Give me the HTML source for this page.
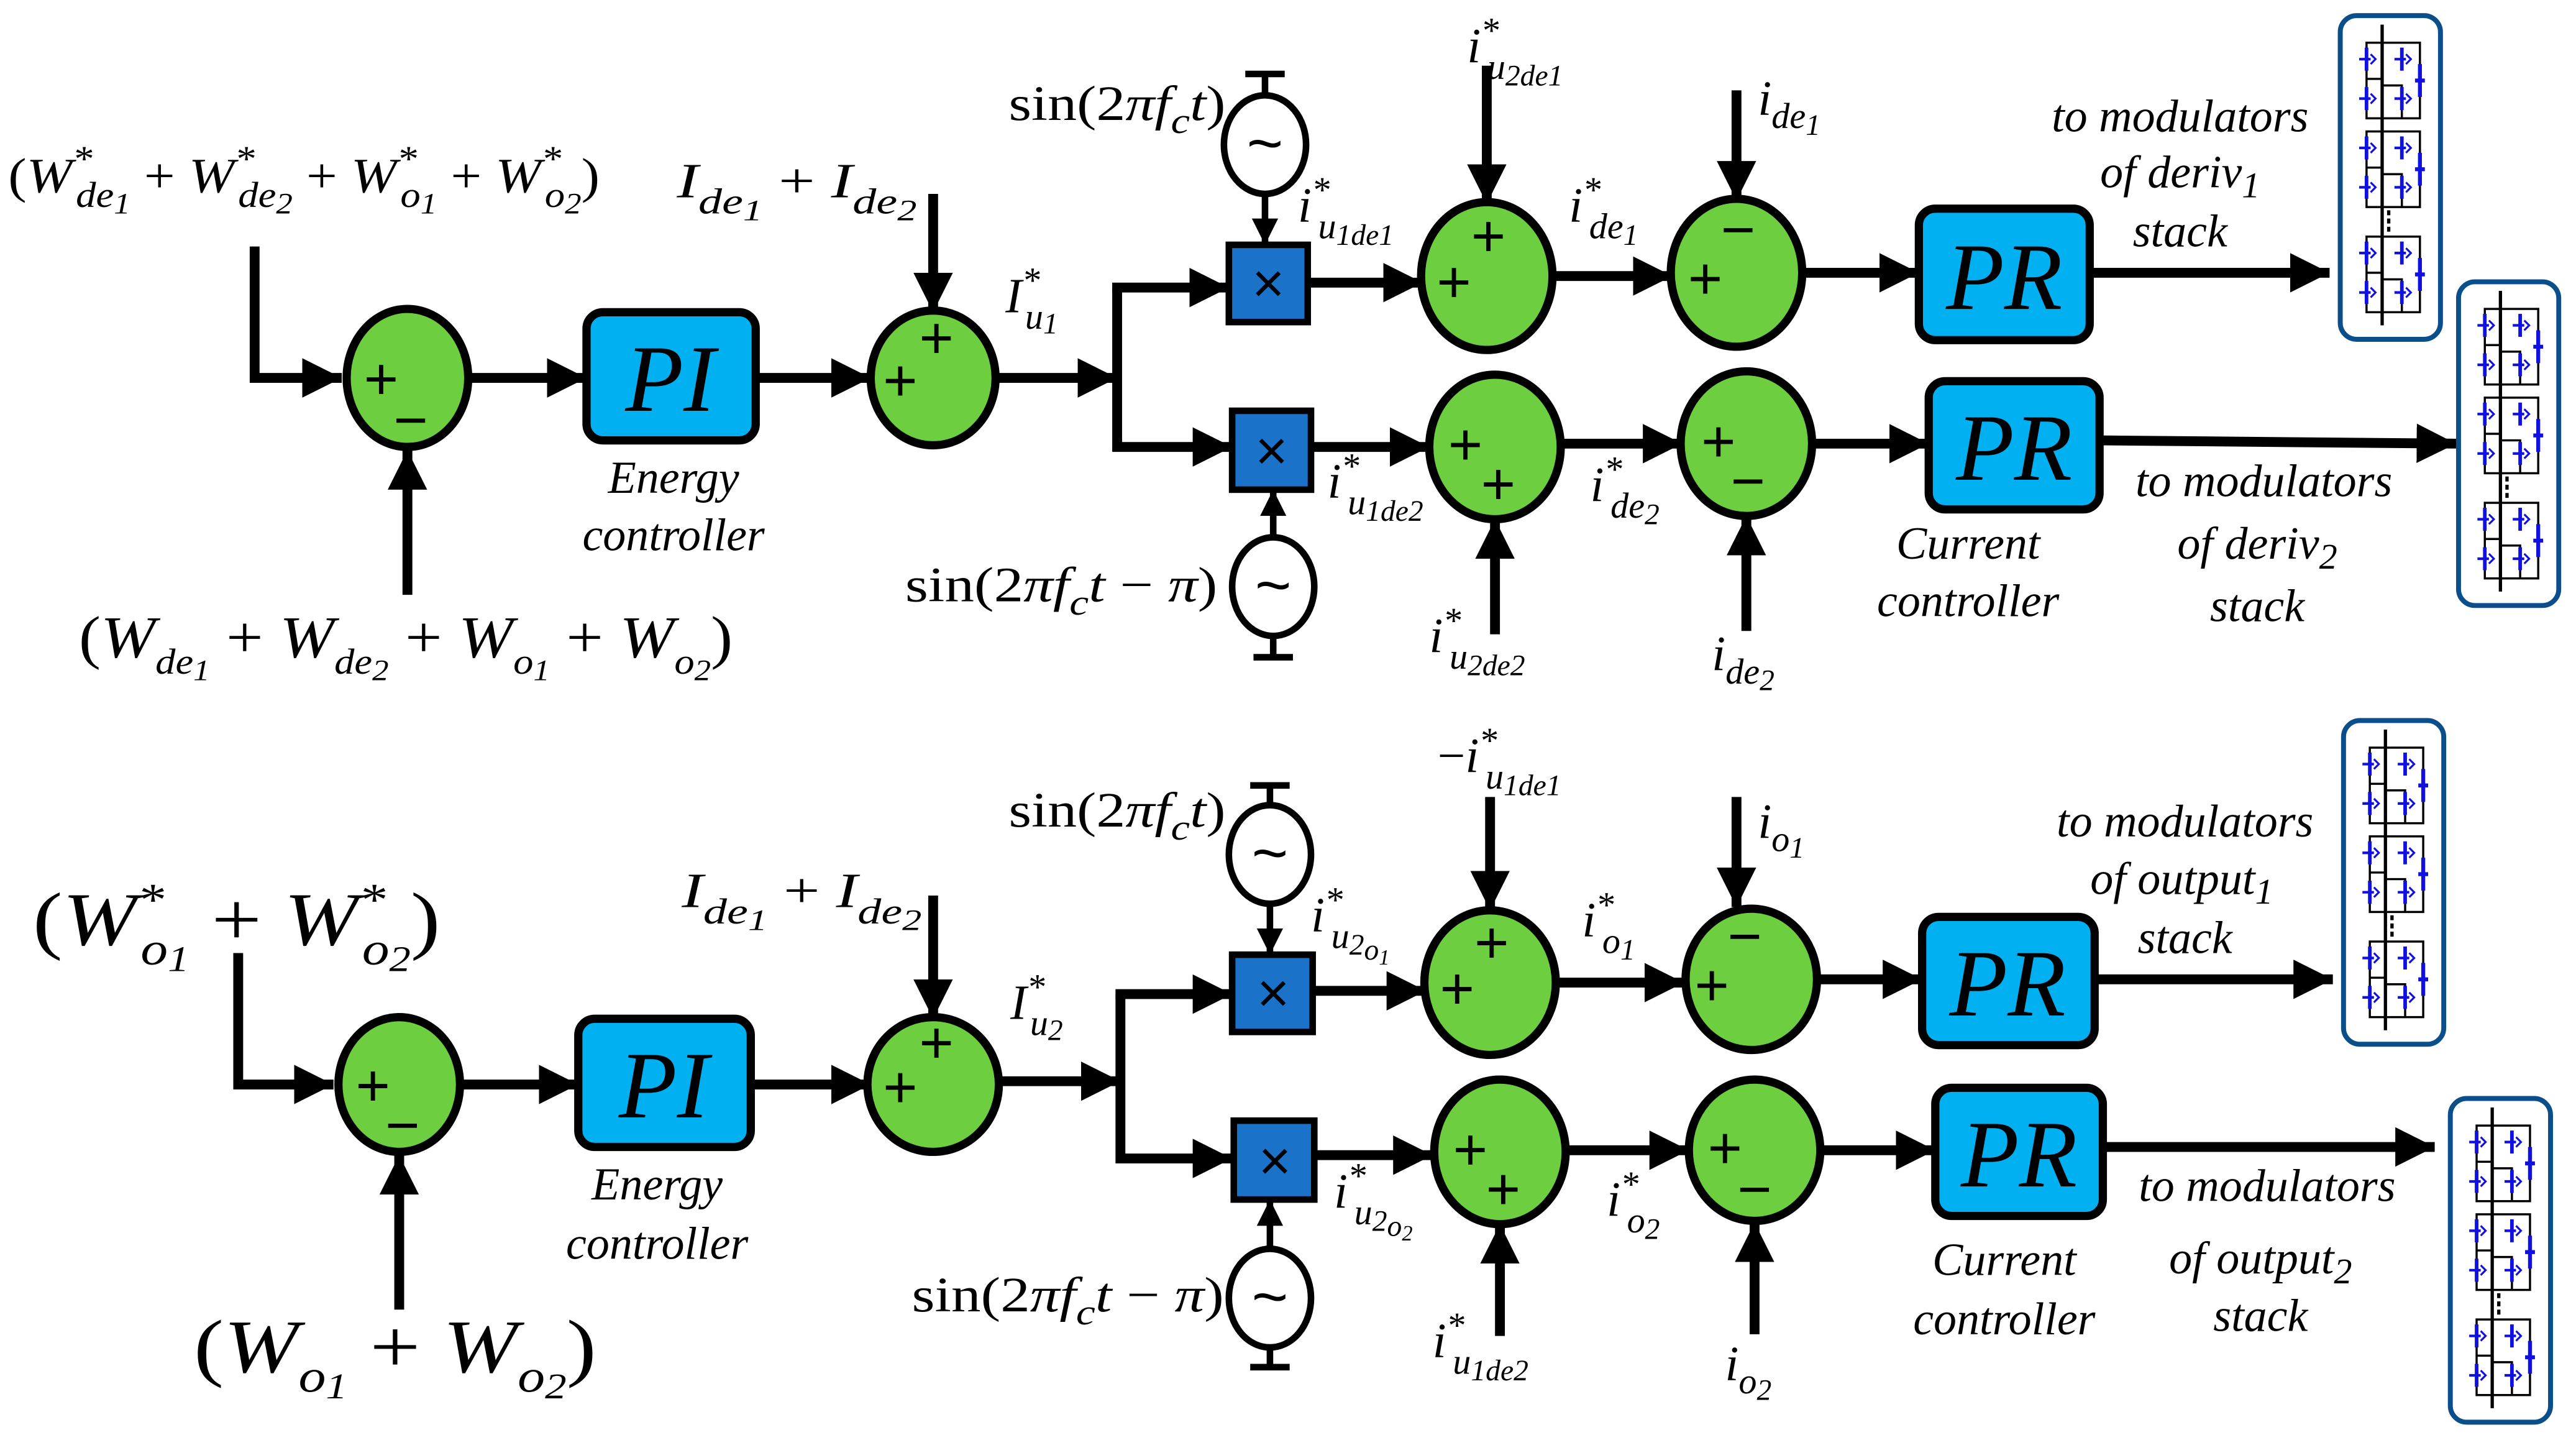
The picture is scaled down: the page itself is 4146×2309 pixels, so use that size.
<!DOCTYPE html>
<html><head><meta charset="utf-8"><style>
html,body{margin:0;padding:0;background:#fff;}
svg{display:block;}
.m{font-family:"Liberation Serif",serif;font-style:italic;font-size:30px;fill:#000;}
.u{font-style:normal;}
.s{font-size:22px;}
.ss{font-size:18px;}
.c{font-family:"Liberation Serif",serif;font-style:italic;font-size:28px;fill:#000;text-anchor:middle;}
.P{font-family:"Liberation Serif",serif;font-style:italic;font-size:58px;fill:#000;text-anchor:middle;}
.pm{font-family:"Liberation Sans",sans-serif;font-size:36px;fill:#000;text-anchor:middle;}
.x{font-family:"Liberation Sans",sans-serif;font-size:34px;fill:#000;text-anchor:middle;}
.t{font-family:"Liberation Sans",sans-serif;font-size:38px;fill:#000;text-anchor:middle;}
.L{stroke:#000;stroke-width:6;fill:none;}
.l4{stroke:#000;stroke-width:4;fill:none;}
.sum{fill:#6dcf3f;stroke:#000;stroke-width:5;}
.pb{fill:#00b0f0;stroke:#000;stroke-width:5;}
.mb{fill:#1a73c8;stroke:#000;stroke-width:4;}
.src{fill:#fff;stroke:#000;stroke-width:4;}
</style></head><body>
<svg width="4146" height="2309" viewBox="0 0 1568 873.3" preserveAspectRatio="none" xmlns="http://www.w3.org/2000/svg">
<defs>
<marker id="a" markerUnits="userSpaceOnUse" markerWidth="26" markerHeight="26" refX="24" refY="13" orient="auto"><path d="M0,1 L24,13 L0,25 z" fill="#000"/></marker>
<marker id="b" markerUnits="userSpaceOnUse" markerWidth="18" markerHeight="18" refX="16" refY="9" orient="auto"><path d="M0,1 L16,9 L0,17 z" fill="#000"/></marker>
<g id="cell">
<rect x="17.5" y="0" width="32.5" height="46" fill="none" stroke="#000" stroke-width="1.3"/>
<path d="M17.5,22 H27 M27,26 H39 V46" fill="none" stroke="#000" stroke-width="1.3"/>
<path d="M17.5,3 V17 M17.5,27 V41 M39,3 V17 M39,27 V41" stroke="#1010e0" stroke-width="2.2"/>
<path d="M13,10 H20 M13,34 H20 M34.5,10 H41.5 M34.5,34 H41.5" stroke="#1010e0" stroke-width="1.6"/>
<path d="M20,7 l3,3 -3,3 M20,31 l3,3 -3,3 M41.5,7 l3,3 -3,3 M41.5,31 l3,3 -3,3" stroke="#1010e0" stroke-width="1.2" fill="none"/>
<path d="M50,13 V33 M47,23 H53" stroke="#1010e0" stroke-width="2.4"/>
</g>
<g id="stack">
<rect x="1.5" y="1.5" width="61" height="197" rx="10" fill="#fff" stroke="#0a4f8a" stroke-width="3"/>
<use href="#cell" y="18"/>
<use href="#cell" y="72"/>
<use href="#cell" y="136"/>
<line x1="27" y1="7" x2="27" y2="190" stroke="#000" stroke-width="2"/>
<line x1="31" y1="120" x2="31" y2="133" stroke="#000" stroke-width="2" stroke-dasharray="3,2"/>
</g>
</defs>

<!-- ===== TOP HALF ===== -->
<text x="5" y="117" class="m" textLength="360" lengthAdjust="spacingAndGlyphs"><tspan class="u">(</tspan>W<tspan class="s" dy="-13">*</tspan><tspan class="s" dx="-9" dy="22">de</tspan><tspan class="ss" dy="4">1</tspan><tspan class="u" dy="-13"> + </tspan>W<tspan class="s" dy="-13">*</tspan><tspan class="s" dx="-9" dy="22">de</tspan><tspan class="ss" dy="4">2</tspan><tspan class="u" dy="-13"> + </tspan>W<tspan class="s" dy="-13">*</tspan><tspan class="s" dx="-9" dy="22">o</tspan><tspan class="ss" dy="4">1</tspan><tspan class="u" dy="-13"> + </tspan>W<tspan class="s" dy="-13">*</tspan><tspan class="s" dx="-9" dy="22">o</tspan><tspan class="ss" dy="4">2</tspan><tspan class="u" dy="-13">)</tspan></text>
<path class="L" d="M155,150 V230 H208" marker-end="url(#a)"/>
<ellipse class="sum" cx="248" cy="230" rx="37" ry="42"/>
<text x="232" y="243" class="pm">+</text><text x="250" y="268" class="pm">−</text>
<line class="L" x1="248" y1="362" x2="248" y2="274" marker-end="url(#a)"/>
<text x="48" y="400" class="m" style="font-size:36px" textLength="398" lengthAdjust="spacingAndGlyphs"><tspan class="u">(</tspan>W<tspan class="s" dy="10">de</tspan><tspan class="ss" dy="4">1</tspan><tspan class="u" dy="-14"> + </tspan>W<tspan class="s" dy="10">de</tspan><tspan class="ss" dy="4">2</tspan><tspan class="u" dy="-14"> + </tspan>W<tspan class="s" dy="10">o</tspan><tspan class="ss" dy="4">1</tspan><tspan class="u" dy="-14"> + </tspan>W<tspan class="s" dy="10">o</tspan><tspan class="ss" dy="4">2</tspan><tspan class="u" dy="-14">)</tspan></text>
<line class="L" x1="286" y1="230" x2="357" y2="230" marker-end="url(#a)"/>
<rect class="pb" x="357" y="190" width="103" height="78" rx="10"/>
<text x="408" y="250" class="P">PI</text>
<text x="410" y="300" class="c">Energy</text><text x="410" y="335" class="c">controller</text>
<line class="L" x1="460" y1="230" x2="530" y2="230" marker-end="url(#a)"/>
<text x="412" y="120" class="m" textLength="146" lengthAdjust="spacingAndGlyphs">I<tspan class="s" dy="10">de</tspan><tspan class="ss" dy="4">1</tspan><tspan class="u" dy="-14"> + </tspan>I<tspan class="s" dy="10">de</tspan><tspan class="ss" dy="4">2</tspan></text>
<line class="L" x1="568" y1="118" x2="568" y2="190" marker-end="url(#a)"/>
<ellipse class="sum" cx="568" cy="230" rx="38" ry="41"/>
<text x="570" y="218" class="pm">+</text><text x="548" y="244" class="pm">+</text>
<text x="612" y="190" class="m">I<tspan class="s" dy="-12">*</tspan><tspan class="s" dx="-9" dy="22">u</tspan><tspan class="ss" dy="3">1</tspan></text>
<line class="L" x1="606" y1="230" x2="680" y2="230" marker-end="url(#a)"/>
<path class="L" d="M680,175 V272 H750" marker-end="url(#a)"/>
<line class="L" x1="677" y1="175" x2="748" y2="175" marker-end="url(#a)"/>
<rect class="mb" x="748" y="149" width="48" height="47"/>
<text x="772" y="184" class="x">×</text>
<ellipse class="src" cx="770" cy="88" rx="25" ry="30"/><text x="770" y="100" class="t">~</text>
<path class="l4" d="M770,58 V45 M758,45 H782"/>
<line class="l4" x1="770" y1="118" x2="770" y2="149" marker-end="url(#b)"/>
<text x="614" y="73" class="m" textLength="132" lengthAdjust="spacingAndGlyphs"><tspan class="u">sin(2</tspan>πf<tspan class="s" dy="8">c</tspan><tspan dy="-8">t</tspan><tspan class="u">)</tspan></text>
<line class="L" x1="796" y1="172" x2="866" y2="172" marker-end="url(#a)"/>
<text x="790" y="135" class="m">i<tspan class="s" dy="-12">*</tspan><tspan class="s" dx="-7" dy="22">u</tspan><tspan class="ss" dy="4">1de1</tspan></text>
<ellipse class="sum" cx="905" cy="168" rx="40" ry="45"/>
<text x="906" y="156" class="pm">+</text><text x="885" y="184" class="pm">+</text>
<line class="L" x1="905" y1="40" x2="905" y2="124" marker-end="url(#a)"/>
<text x="893" y="38" class="m">i<tspan class="s" dy="-12">*</tspan><tspan class="s" dx="-7" dy="22">u</tspan><tspan class="ss" dy="4">2de1</tspan></text>
<line class="L" x1="945" y1="168" x2="1018" y2="168" marker-end="url(#a)"/>
<text x="955" y="135" class="m">i<tspan class="s" dy="-12">*</tspan><tspan class="s" dx="-7" dy="22">de</tspan><tspan class="ss" dy="4">1</tspan></text>
<ellipse class="sum" cx="1057" cy="166" rx="40" ry="45"/>
<text x="1058" y="152" class="pm">−</text><text x="1038" y="182" class="pm">+</text>
<line class="L" x1="1057" y1="55" x2="1057" y2="122" marker-end="url(#a)"/>
<text x="1070" y="70" class="m">i<tspan class="s" dy="8">de</tspan><tspan class="ss" dy="4">1</tspan></text>
<line class="L" x1="1097" y1="166" x2="1168" y2="166" marker-end="url(#a)"/>
<rect class="pb" x="1168" y="127" width="104" height="80" rx="10"/>
<text x="1220" y="188" class="P">PR</text>
<line class="L" x1="1272" y1="166" x2="1418" y2="166" marker-end="url(#a)"/>
<text x="1327" y="80" class="c">to modulators</text>
<text x="1327" y="114" class="c">of deriv<tspan class="s" dy="6">1</tspan></text>
<text x="1327" y="150" class="c">stack</text>
<use href="#stack" x="1423" y="8"/>

<!-- top second row -->
<rect class="mb" x="750" y="250" width="48" height="48"/>
<text x="774" y="286" class="x">×</text>
<ellipse class="src" cx="775" cy="357" rx="25" ry="30"/><text x="775" y="369" class="t">~</text>
<path class="l4" d="M775,387 V400 M763,400 H787"/>
<line class="l4" x1="775" y1="327" x2="775" y2="298" marker-end="url(#b)"/>
<text x="551" y="366" class="m" textLength="190" lengthAdjust="spacingAndGlyphs"><tspan class="u">sin(2</tspan>πf<tspan class="s" dy="8">c</tspan><tspan dy="-8">t</tspan><tspan class="u"> − </tspan>π<tspan class="u">)</tspan></text>
<line class="L" x1="798" y1="272" x2="870" y2="272" marker-end="url(#a)"/>
<text x="808" y="303" class="m">i<tspan class="s" dy="-12">*</tspan><tspan class="s" dx="-7" dy="22">u</tspan><tspan class="ss" dy="4">1de2</tspan></text>
<ellipse class="sum" cx="910" cy="272" rx="40" ry="44"/>
<text x="892" y="283" class="pm">+</text><text x="912" y="307" class="pm">+</text>
<line class="L" x1="910" y1="386" x2="910" y2="316" marker-end="url(#a)"/>
<text x="870" y="397" class="m">i<tspan class="s" dy="-12">*</tspan><tspan class="s" dx="-7" dy="22">u</tspan><tspan class="ss" dy="4">2de2</tspan></text>
<line class="L" x1="950" y1="270" x2="1024" y2="270" marker-end="url(#a)"/>
<text x="968" y="305" class="m">i<tspan class="s" dy="-12">*</tspan><tspan class="s" dx="-7" dy="22">de</tspan><tspan class="ss" dy="4">2</tspan></text>
<ellipse class="sum" cx="1063" cy="270" rx="40" ry="44"/>
<text x="1046" y="281" class="pm">+</text><text x="1064" y="305" class="pm">−</text>
<line class="L" x1="1063" y1="384" x2="1063" y2="314" marker-end="url(#a)"/>
<text x="1042" y="408" class="m">i<tspan class="s" dy="8">de</tspan><tspan class="ss" dy="4">2</tspan></text>
<line class="L" x1="1103" y1="270" x2="1174" y2="270" marker-end="url(#a)"/>
<rect class="pb" x="1174" y="232" width="104" height="78" rx="10"/>
<text x="1226" y="292" class="P">PR</text>
<text x="1198" y="340" class="c">Current</text><text x="1198" y="375" class="c">controller</text>
<line class="L" x1="1278" y1="268" x2="1495" y2="270" marker-end="url(#a)"/>
<text x="1378" y="302" class="c">to modulators</text>
<text x="1374" y="340" class="c">of deriv<tspan class="s" dy="6">2</tspan></text>
<text x="1374" y="378" class="c">stack</text>
<use href="#stack" x="1495" y="170"/>

<!-- ===== BOTTOM HALF ===== -->
<text x="20" y="575" class="m" style="font-size:46px" textLength="248" lengthAdjust="spacingAndGlyphs"><tspan class="u">(</tspan>W<tspan style="font-size:28px" dy="-18">*</tspan><tspan style="font-size:28px" dx="-12" dy="30">o</tspan><tspan style="font-size:22px" dy="4">1</tspan><tspan class="u" dy="-16"> + </tspan>W<tspan style="font-size:28px" dy="-18">*</tspan><tspan style="font-size:28px" dx="-12" dy="30">o</tspan><tspan style="font-size:22px" dy="4">2</tspan><tspan class="u" dy="-16">)</tspan></text>
<path class="L" d="M145,580 V660 H203" marker-end="url(#a)"/>
<ellipse class="sum" cx="243" cy="660" rx="37" ry="41"/>
<text x="227" y="673" class="pm">+</text><text x="245" y="697" class="pm">−</text>
<line class="L" x1="243" y1="797" x2="243" y2="703" marker-end="url(#a)"/>
<text x="118" y="835" class="m" style="font-size:46px" textLength="245" lengthAdjust="spacingAndGlyphs"><tspan class="u">(</tspan>W<tspan style="font-size:28px" dy="12">o</tspan><tspan style="font-size:22px" dy="4">1</tspan><tspan class="u" dy="-16"> + </tspan>W<tspan style="font-size:28px" dy="12">o</tspan><tspan style="font-size:22px" dy="4">2</tspan><tspan class="u" dy="-16">)</tspan></text>
<line class="L" x1="280" y1="660" x2="352" y2="660" marker-end="url(#a)"/>
<rect class="pb" x="352" y="620" width="105" height="78" rx="10"/>
<text x="404" y="680" class="P">PI</text>
<text x="400" y="730" class="c">Energy</text><text x="400" y="766" class="c">controller</text>
<line class="L" x1="457" y1="660" x2="530" y2="660" marker-end="url(#a)"/>
<text x="415" y="552" class="m" textLength="146" lengthAdjust="spacingAndGlyphs">I<tspan class="s" dy="10">de</tspan><tspan class="ss" dy="4">1</tspan><tspan class="u" dy="-14"> + </tspan>I<tspan class="s" dy="10">de</tspan><tspan class="ss" dy="4">2</tspan></text>
<line class="L" x1="568" y1="545" x2="568" y2="620" marker-end="url(#a)"/>
<ellipse class="sum" cx="568" cy="660" rx="40" ry="41"/>
<text x="570" y="647" class="pm">+</text><text x="548" y="674" class="pm">+</text>
<text x="615" y="620" class="m">I<tspan class="s" dy="-12">*</tspan><tspan class="s" dx="-9" dy="22">u</tspan><tspan class="ss" dy="3">2</tspan></text>
<line class="L" x1="608" y1="658" x2="682" y2="658" marker-end="url(#a)"/>
<path class="L" d="M682,605 V705 H750" marker-end="url(#a)"/>
<line class="L" x1="679" y1="605" x2="750" y2="605" marker-end="url(#a)"/>
<rect class="mb" x="750" y="581" width="49" height="47"/>
<text x="775" y="616" class="x">×</text>
<ellipse class="src" cx="773" cy="520" rx="25" ry="30"/><text x="773" y="532" class="t">~</text>
<path class="l4" d="M773,490 V478 M761,478 H785"/>
<line class="l4" x1="773" y1="550" x2="773" y2="581" marker-end="url(#b)"/>
<text x="614" y="503" class="m" textLength="132" lengthAdjust="spacingAndGlyphs"><tspan class="u">sin(2</tspan>πf<tspan class="s" dy="8">c</tspan><tspan dy="-8">t</tspan><tspan class="u">)</tspan></text>
<line class="L" x1="799" y1="603" x2="868" y2="603" marker-end="url(#a)"/>
<text x="798" y="567" class="m">i<tspan class="s" dy="-12">*</tspan><tspan class="s" dx="-7" dy="22">u</tspan><tspan class="ss" dy="4">2</tspan><tspan class="ss" dy="3">o</tspan><tspan style="font-size:13px" dy="3">1</tspan></text>
<ellipse class="sum" cx="907" cy="598" rx="40" ry="44"/>
<text x="908" y="586" class="pm">+</text><text x="887" y="614" class="pm">+</text>
<line class="L" x1="907" y1="485" x2="907" y2="554" marker-end="url(#a)"/>
<text x="875" y="470" class="m"><tspan class="u">−</tspan>i<tspan class="s" dy="-12">*</tspan><tspan class="s" dx="-7" dy="22">u</tspan><tspan class="ss" dy="4">1de1</tspan></text>
<line class="L" x1="947" y1="598" x2="1025" y2="598" marker-end="url(#a)"/>
<text x="963" y="570" class="m">i<tspan class="s" dy="-12">*</tspan><tspan class="s" dx="-7" dy="22">o</tspan><tspan class="ss" dy="4">1</tspan></text>
<ellipse class="sum" cx="1066" cy="596" rx="40" ry="43"/>
<text x="1062" y="582" class="pm">−</text><text x="1042" y="612" class="pm">+</text>
<line class="L" x1="1057" y1="485" x2="1057" y2="552" marker-end="url(#a)"/>
<text x="1070" y="510" class="m">i<tspan class="s" dy="8">o</tspan><tspan class="ss" dy="4">1</tspan></text>
<line class="L" x1="1106" y1="596" x2="1170" y2="596" marker-end="url(#a)"/>
<rect class="pb" x="1170" y="558" width="105" height="78" rx="10"/>
<text x="1222" y="618" class="P">PR</text>
<line class="L" x1="1275" y1="596" x2="1420" y2="596" marker-end="url(#a)"/>
<text x="1330" y="509" class="c">to modulators</text>
<text x="1328" y="544" class="c">of output<tspan class="s" dy="6">1</tspan></text>
<text x="1330" y="580" class="c">stack</text>
<use href="#stack" x="1425" y="437"/>

<!-- bottom second row -->
<rect class="mb" x="751" y="682" width="49" height="48"/>
<text x="776" y="718" class="x">×</text>
<ellipse class="src" cx="773" cy="790" rx="25" ry="30"/><text x="773" y="802" class="t">~</text>
<path class="l4" d="M773,820 V832 M761,832 H785"/>
<line class="l4" x1="773" y1="760" x2="773" y2="730" marker-end="url(#b)"/>
<text x="555" y="798" class="m" textLength="190" lengthAdjust="spacingAndGlyphs"><tspan class="u">sin(2</tspan>πf<tspan class="s" dy="8">c</tspan><tspan dy="-8">t</tspan><tspan class="u"> − </tspan>π<tspan class="u">)</tspan></text>
<line class="L" x1="800" y1="703" x2="872" y2="703" marker-end="url(#a)"/>
<text x="812" y="735" class="m">i<tspan class="s" dy="-12">*</tspan><tspan class="s" dx="-7" dy="22">u</tspan><tspan class="ss" dy="4">2</tspan><tspan class="ss" dy="3">o</tspan><tspan style="font-size:13px" dy="3">2</tspan></text>
<ellipse class="sum" cx="913" cy="701" rx="40" ry="44"/>
<text x="895" y="712" class="pm">+</text><text x="915" y="736" class="pm">+</text>
<line class="L" x1="913" y1="813" x2="913" y2="745" marker-end="url(#a)"/>
<text x="872" y="826" class="m">i<tspan class="s" dy="-12">*</tspan><tspan class="s" dx="-7" dy="22">u</tspan><tspan class="ss" dy="4">1de2</tspan></text>
<line class="L" x1="953" y1="700" x2="1028" y2="700" marker-end="url(#a)"/>
<text x="978" y="740" class="m">i<tspan class="s" dy="-12">*</tspan><tspan class="s" dx="-7" dy="22">o</tspan><tspan class="ss" dy="4">2</tspan></text>
<ellipse class="sum" cx="1068" cy="700" rx="40" ry="43"/>
<text x="1050" y="711" class="pm">+</text><text x="1068" y="736" class="pm">−</text>
<line class="L" x1="1068" y1="812" x2="1068" y2="744" marker-end="url(#a)"/>
<text x="1050" y="840" class="m">i<tspan class="s" dy="8">o</tspan><tspan class="ss" dy="4">2</tspan></text>
<line class="L" x1="1108" y1="700" x2="1178" y2="700" marker-end="url(#a)"/>
<rect class="pb" x="1178" y="662" width="102" height="78" rx="10"/>
<text x="1229" y="722" class="P">PR</text>
<text x="1220" y="776" class="c">Current</text><text x="1220" y="812" class="c">controller</text>
<line class="L" x1="1280" y1="698" x2="1482" y2="698" marker-end="url(#a)"/>
<text x="1380" y="731" class="c">to modulators</text>
<text x="1376" y="775" class="c">of output<tspan class="s" dy="6">2</tspan></text>
<text x="1376" y="810" class="c">stack</text>
<use href="#stack" x="1490" y="667"/>
</svg>
</body></html>
